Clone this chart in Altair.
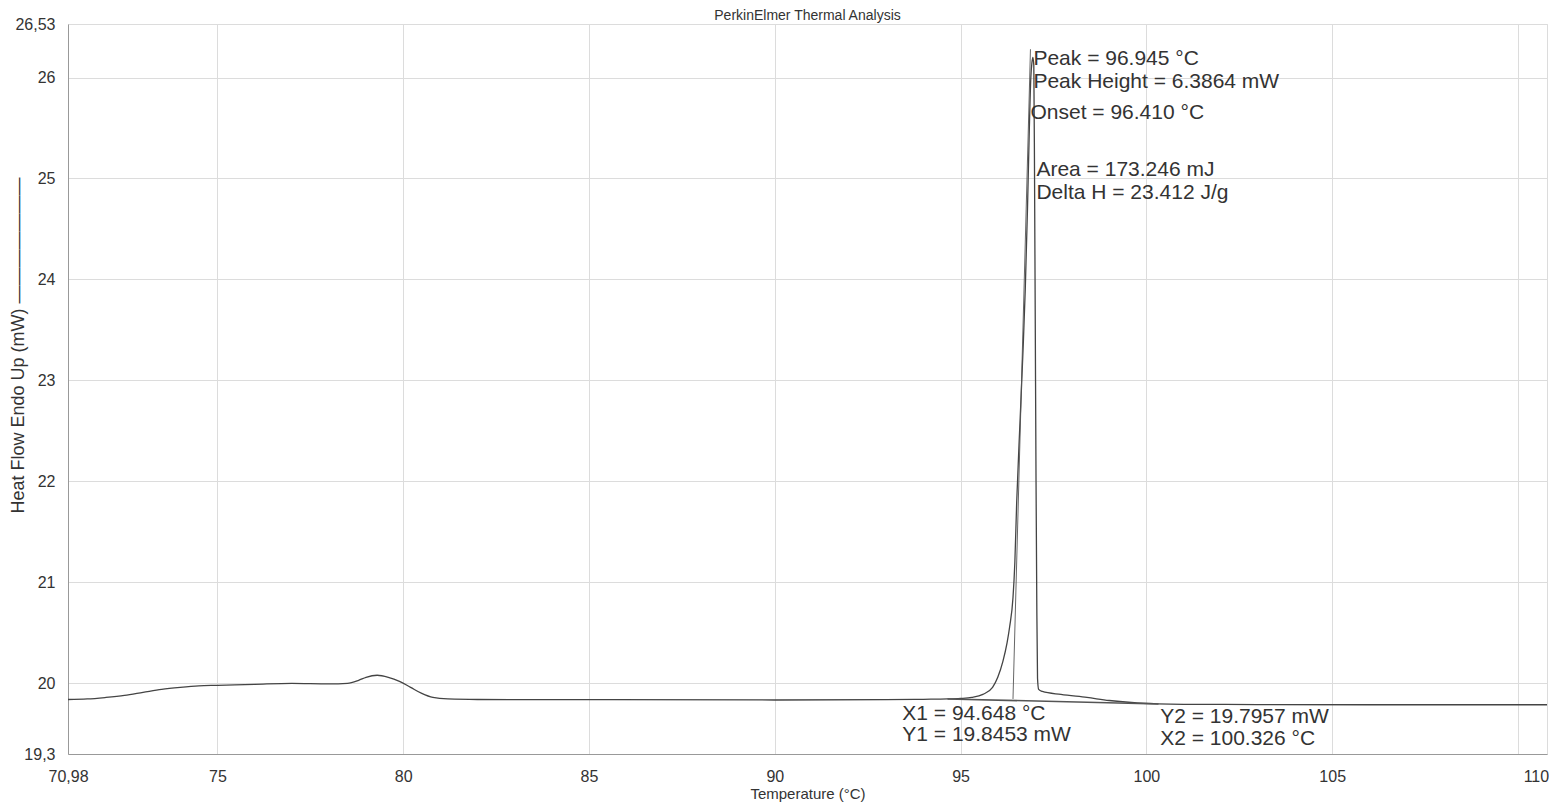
import altair as alt
import pandas as pd

# ---- data ----
temperature = [70.98, 71.5, 72.0, 72.5, 73.0, 73.5, 74.0, 74.5, 75.0, 76.0, 77.0, 78.0,
               78.5, 78.8, 79.0, 79.3, 79.6, 79.9, 80.2, 80.5, 80.8, 81.2, 82.0, 85.0,
               90.0, 93.0, 94.0, 94.648, 95.0, 95.3, 95.6, 95.86, 96.0, 96.14, 96.25,
               96.32, 96.41, 96.46, 96.51, 96.6, 96.68, 96.74, 96.8, 96.85, 96.89, 96.92,
               96.945, 96.97, 96.99, 97.01, 97.03, 97.05, 97.07, 97.1, 97.2, 97.7, 98.4,
               99.0, 99.6, 100.3, 101.0, 103.0, 106.0, 110.78]
heat_flow = [19.84, 19.845, 19.86, 19.88, 19.91, 19.94, 19.96, 19.975, 19.98, 19.99, 20.0, 19.995,
             20.0, 20.03, 20.06, 20.08, 20.06, 20.02, 19.96, 19.9, 19.86, 19.845, 19.84, 19.838,
             19.835, 19.838, 19.842, 19.845, 19.85, 19.86, 19.89, 19.96, 20.06, 20.22, 20.4,
             20.56, 20.85, 21.2, 21.8, 22.6, 23.3, 23.9, 24.7, 25.5, 26.0, 26.15,
             26.2, 26.12, 25.0, 23.5, 22.0, 20.8, 20.05, 19.94, 19.92, 19.89, 19.86,
             19.83, 19.81, 19.797, 19.792, 19.79, 19.788, 19.788]

x_ticks = [70.98, 75, 80, 85, 90, 95, 100, 105, 110, 110.78]
y_ticks = [19.3, 20, 21, 22, 23, 24, 25, 26, 26.53]

baseline_x = [94.648, 100.326]
baseline_y = [19.8453, 19.7957]
onset_x = [96.41, 96.88]
onset_y = [19.845, 26.28]

ann_text = ["Peak = 96.945 °C", "Peak Height = 6.3864 mW", "Onset = 96.410 °C",
            "Area = 173.246 mJ", "Delta H = 23.412 J/g",
            "X1 = 94.648 °C", "Y1 = 19.8453 mW", "Y2 = 19.7957 mW", "X2 = 100.326 °C"]
ann_x = [96.96, 96.96, 96.88, 97.04, 97.04, 93.43, 93.43, 100.37, 100.37]
ann_y = [26.18, 25.96, 25.645, 25.08, 24.86, 19.70, 19.49, 19.67, 19.45]

FONT = "Liberation Sans"

curve_df = pd.DataFrame({"T": temperature, "HF": heat_flow})
rules_df = pd.DataFrame({
    "x": [baseline_x[0], onset_x[0]], "x2": [baseline_x[1], onset_x[1]],
    "y": [baseline_y[0], onset_y[0]], "y2": [baseline_y[1], onset_y[1]],
    "kind": ["baseline", "onset"],
})
ann_df = pd.DataFrame({"text": ann_text, "x": ann_x, "y": ann_y})

x_scale = alt.Scale(domain=[x_ticks[0], x_ticks[-1]], nice=False, zero=False)
y_scale = alt.Scale(domain=[y_ticks[0], y_ticks[-1]], nice=False, zero=False)

label_expr_x = "datum.value == 110 ? '' : replace(toString(datum.value), '.', ',')"
label_expr_y = "replace(toString(datum.value), '.', ',')"

x_axis = alt.Axis(values=x_ticks, title="Temperature (°C)", labelExpr=label_expr_x,
                  grid=True, gridColor="#dcdcdc", domainColor="#999", ticks=False,
                  labelFont=FONT, labelFontSize=16, labelColor="#333", labelPadding=14,
                  labelOverlap=False, labelFlush=False,
                  titleFont=FONT, titleFontSize=15, titleColor="#333",
                  titleFontWeight="normal", titlePadding=2)
y_axis = alt.Axis(values=y_ticks, title="Heat Flow Endo Up (mW) ———————", labelExpr=label_expr_y,
                  grid=True, gridColor="#dcdcdc", domainColor="#999", ticks=False,
                  labelFont=FONT, labelFontSize=16, labelColor="#333", labelPadding=13,
                  labelOverlap=False, labelFlush=False,
                  titleFont=FONT, titleFontSize=18, titleColor="#333",
                  titleFontWeight="normal", titleAngle=270, titleX=-50, titleY=321,
                  titleAlign="center", titleBaseline="middle")

line = alt.Chart(curve_df).mark_line(color="#444", strokeWidth=1.3, interpolate="monotone").encode(
    x=alt.X("T:Q", scale=x_scale, axis=x_axis),
    y=alt.Y("HF:Q", scale=y_scale, axis=y_axis),
)

rules = alt.Chart(rules_df).mark_rule(color="#555").encode(
    x=alt.X("x:Q", scale=x_scale, axis=x_axis),
    x2="x2:Q",
    y=alt.Y("y:Q", scale=y_scale, axis=y_axis),
    y2="y2:Q",
    strokeWidth=alt.condition(alt.datum.kind == "baseline", alt.value(1.6), alt.value(0.9)),
)

texts = alt.Chart(ann_df).mark_text(align="left", baseline="middle", font=FONT,
                                      fontSize=21, color="#333").encode(
    x=alt.X("x:Q", scale=x_scale, axis=x_axis),
    y=alt.Y("y:Q", scale=y_scale, axis=y_axis),
    text="text:N",
)

chart = alt.layer(line, rules, texts).properties(
    width=1479, height=730,
    padding={"left": 60, "top": 16, "right": 2, "bottom": 49},
    autosize=alt.AutoSizeParams(type="none"),
    title=alt.TitleParams("PerkinElmer Thermal Analysis", font=FONT, fontSize=14,
                          fontWeight="normal", color="#333", frame="group", offset=2,
                          dy=9, anchor="middle"),
).configure_view(stroke=None).configure(background="white")

chart.save("out.html", embed_options={"renderer": "svg", "actions": False})
